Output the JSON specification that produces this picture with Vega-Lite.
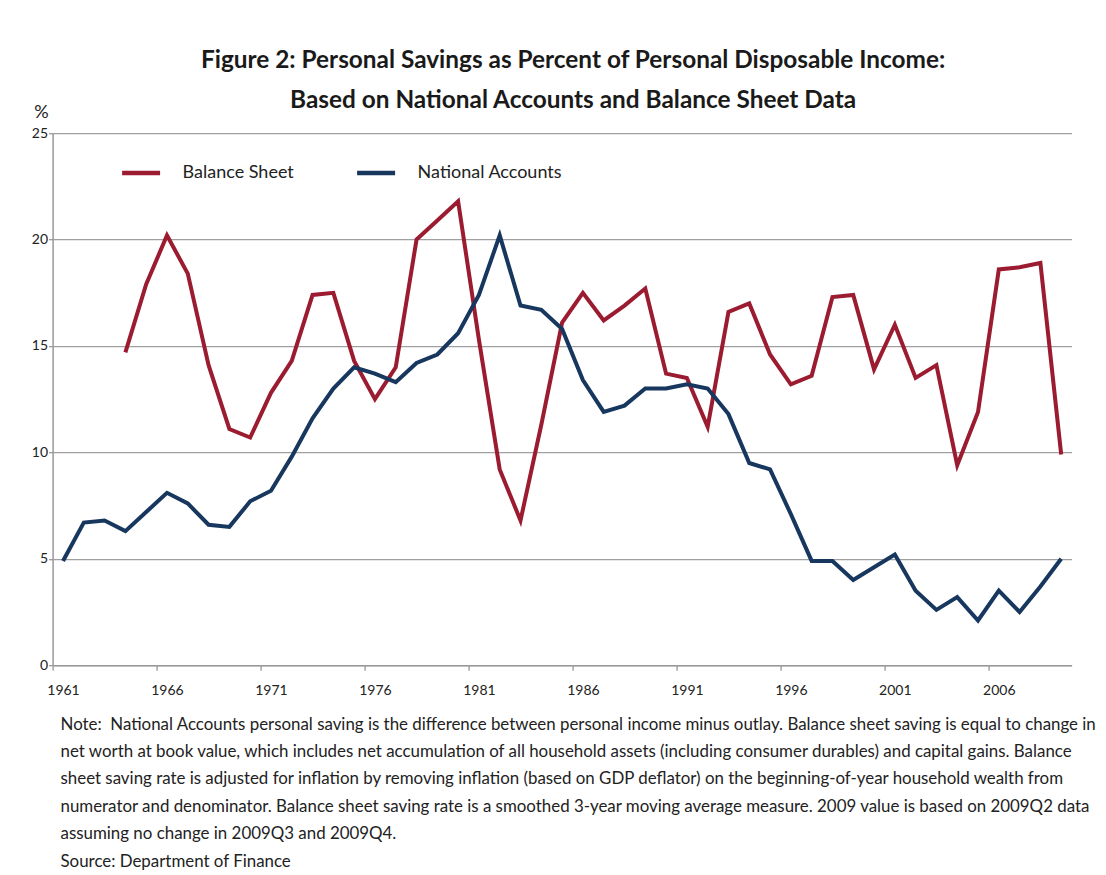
{
  "$schema": "https://vega.github.io/schema/vega-lite/v6.json",
  "width": 1019,
  "height": 532,
  "autosize": {"type": "none"},
  "padding": {"left": 52.6, "top": 133.2, "right": 34.4, "bottom": 209.9},
  "background": "white",
  "title": {
    "text": ["Figure 2: Personal Savings as Percent of Personal Disposable Income:", "Based on National Accounts and Balance Sheet Data"],
    "font": "Lato", "fontSize": 24.4, "fontWeight": "bold", "color": "#1a1a1a",
    "lineHeight": 40, "anchor": "middle", "frame": "group", "baseline": "bottom", "offset": -34, "dx": 11
  },
  "data": {"values": [
    {"year": 1964, "series": "Balance Sheet", "pct": 14.7},
    {"year": 1965, "series": "Balance Sheet", "pct": 17.9},
    {"year": 1966, "series": "Balance Sheet", "pct": 20.2},
    {"year": 1967, "series": "Balance Sheet", "pct": 18.4},
    {"year": 1968, "series": "Balance Sheet", "pct": 14.1},
    {"year": 1969, "series": "Balance Sheet", "pct": 11.1},
    {"year": 1970, "series": "Balance Sheet", "pct": 10.7},
    {"year": 1971, "series": "Balance Sheet", "pct": 12.8},
    {"year": 1972, "series": "Balance Sheet", "pct": 14.3},
    {"year": 1973, "series": "Balance Sheet", "pct": 17.4},
    {"year": 1974, "series": "Balance Sheet", "pct": 17.5},
    {"year": 1975, "series": "Balance Sheet", "pct": 14.3},
    {"year": 1976, "series": "Balance Sheet", "pct": 12.5},
    {"year": 1977, "series": "Balance Sheet", "pct": 14.0},
    {"year": 1978, "series": "Balance Sheet", "pct": 20.0},
    {"year": 1979, "series": "Balance Sheet", "pct": 20.9},
    {"year": 1980, "series": "Balance Sheet", "pct": 21.8},
    {"year": 1981, "series": "Balance Sheet", "pct": 15.3},
    {"year": 1982, "series": "Balance Sheet", "pct": 9.2},
    {"year": 1983, "series": "Balance Sheet", "pct": 6.8},
    {"year": 1984, "series": "Balance Sheet", "pct": 11.3},
    {"year": 1985, "series": "Balance Sheet", "pct": 16.1},
    {"year": 1986, "series": "Balance Sheet", "pct": 17.5},
    {"year": 1987, "series": "Balance Sheet", "pct": 16.2},
    {"year": 1988, "series": "Balance Sheet", "pct": 16.9},
    {"year": 1989, "series": "Balance Sheet", "pct": 17.7},
    {"year": 1990, "series": "Balance Sheet", "pct": 13.7},
    {"year": 1991, "series": "Balance Sheet", "pct": 13.5},
    {"year": 1992, "series": "Balance Sheet", "pct": 11.2},
    {"year": 1993, "series": "Balance Sheet", "pct": 16.6},
    {"year": 1994, "series": "Balance Sheet", "pct": 17.0},
    {"year": 1995, "series": "Balance Sheet", "pct": 14.6},
    {"year": 1996, "series": "Balance Sheet", "pct": 13.2},
    {"year": 1997, "series": "Balance Sheet", "pct": 13.6},
    {"year": 1998, "series": "Balance Sheet", "pct": 17.3},
    {"year": 1999, "series": "Balance Sheet", "pct": 17.4},
    {"year": 2000, "series": "Balance Sheet", "pct": 13.9},
    {"year": 2001, "series": "Balance Sheet", "pct": 16.0},
    {"year": 2002, "series": "Balance Sheet", "pct": 13.5},
    {"year": 2003, "series": "Balance Sheet", "pct": 14.1},
    {"year": 2004, "series": "Balance Sheet", "pct": 9.4},
    {"year": 2005, "series": "Balance Sheet", "pct": 11.9},
    {"year": 2006, "series": "Balance Sheet", "pct": 18.6},
    {"year": 2007, "series": "Balance Sheet", "pct": 18.7},
    {"year": 2008, "series": "Balance Sheet", "pct": 18.9},
    {"year": 2009, "series": "Balance Sheet", "pct": 9.9},
    {"year": 1961, "series": "National Accounts", "pct": 4.9},
    {"year": 1962, "series": "National Accounts", "pct": 6.7},
    {"year": 1963, "series": "National Accounts", "pct": 6.8},
    {"year": 1964, "series": "National Accounts", "pct": 6.3},
    {"year": 1965, "series": "National Accounts", "pct": 7.2},
    {"year": 1966, "series": "National Accounts", "pct": 8.1},
    {"year": 1967, "series": "National Accounts", "pct": 7.6},
    {"year": 1968, "series": "National Accounts", "pct": 6.6},
    {"year": 1969, "series": "National Accounts", "pct": 6.5},
    {"year": 1970, "series": "National Accounts", "pct": 7.7},
    {"year": 1971, "series": "National Accounts", "pct": 8.2},
    {"year": 1972, "series": "National Accounts", "pct": 9.8},
    {"year": 1973, "series": "National Accounts", "pct": 11.6},
    {"year": 1974, "series": "National Accounts", "pct": 13.0},
    {"year": 1975, "series": "National Accounts", "pct": 14.0},
    {"year": 1976, "series": "National Accounts", "pct": 13.7},
    {"year": 1977, "series": "National Accounts", "pct": 13.3},
    {"year": 1978, "series": "National Accounts", "pct": 14.2},
    {"year": 1979, "series": "National Accounts", "pct": 14.6},
    {"year": 1980, "series": "National Accounts", "pct": 15.6},
    {"year": 1981, "series": "National Accounts", "pct": 17.4},
    {"year": 1982, "series": "National Accounts", "pct": 20.2},
    {"year": 1983, "series": "National Accounts", "pct": 16.9},
    {"year": 1984, "series": "National Accounts", "pct": 16.7},
    {"year": 1985, "series": "National Accounts", "pct": 15.8},
    {"year": 1986, "series": "National Accounts", "pct": 13.4},
    {"year": 1987, "series": "National Accounts", "pct": 11.9},
    {"year": 1988, "series": "National Accounts", "pct": 12.2},
    {"year": 1989, "series": "National Accounts", "pct": 13.0},
    {"year": 1990, "series": "National Accounts", "pct": 13.0},
    {"year": 1991, "series": "National Accounts", "pct": 13.2},
    {"year": 1992, "series": "National Accounts", "pct": 13.0},
    {"year": 1993, "series": "National Accounts", "pct": 11.8},
    {"year": 1994, "series": "National Accounts", "pct": 9.5},
    {"year": 1995, "series": "National Accounts", "pct": 9.2},
    {"year": 1996, "series": "National Accounts", "pct": 7.1},
    {"year": 1997, "series": "National Accounts", "pct": 4.9},
    {"year": 1998, "series": "National Accounts", "pct": 4.9},
    {"year": 1999, "series": "National Accounts", "pct": 4.0},
    {"year": 2000, "series": "National Accounts", "pct": 4.6},
    {"year": 2001, "series": "National Accounts", "pct": 5.2},
    {"year": 2002, "series": "National Accounts", "pct": 3.5},
    {"year": 2003, "series": "National Accounts", "pct": 2.6},
    {"year": 2004, "series": "National Accounts", "pct": 3.2},
    {"year": 2005, "series": "National Accounts", "pct": 2.1},
    {"year": 2006, "series": "National Accounts", "pct": 3.5},
    {"year": 2007, "series": "National Accounts", "pct": 2.5},
    {"year": 2008, "series": "National Accounts", "pct": 3.7},
    {"year": 2009, "series": "National Accounts", "pct": 5.0}
  ]},
  "mark": {"type": "line", "strokeWidth": 4},
  "encoding": {
    "x": {
      "field": "year", "type": "quantitative",
      "scale": {"domain": [1960.5, 2009.5], "nice": false, "zero": false},
      "axis": {
        "values": [1961, 1966, 1971, 1976, 1981, 1986, 1991, 1996, 2001, 2006],
        "format": "d", "grid": false, "labelFlush": false, "labelOverlap": false,
        "tickOffset": -10.4, "labelOffset": 10.4, "tickSize": 5, "tickColor": "#999999", "tickWidth": 1.3,
        "domainColor": "#999999", "domainWidth": 1.5,
        "labelFont": "Lato", "labelFontSize": 14, "labelColor": "#222222", "labelPadding": 13,
        "title": [
          "Note:\u00a0 National Accounts personal saving is the difference between personal income minus outlay. Balance sheet saving is equal to change in",
          "net worth at book value, which includes net accumulation of all household assets (including consumer durables) and capital gains. Balance",
          "sheet saving rate is adjusted for inflation by removing inflation (based on GDP deflator) on the beginning-of-year household wealth from",
          "numerator and denominator. Balance sheet saving rate is a smoothed 3-year moving average measure. 2009 value is based on 2009Q2 data",
          "assuming no change in 2009Q3 and 2009Q4.",
          "Source: Department of Finance"
        ],
        "titleFont": "Lato", "titleFontSize": 16.9, "titleFontWeight": "normal", "titleColor": "#222222",
        "titleAnchor": "start", "titleAlign": "left", "titleBaseline": "alphabetic",
        "titleX": 7.4, "titleY": 64, "titleLineHeight": 27.4
      }
    },
    "y": {
      "field": "pct", "type": "quantitative",
      "scale": {"domain": [0, 25], "nice": false},
      "axis": {
        "values": [0, 5, 10, 15, 20, 25],
        "grid": true, "gridColor": "#a0a0a0", "gridWidth": 1.3,
        "domainColor": "#999999", "domainWidth": 1.5, "tickColor": "#999999", "tickSize": 4, "tickWidth": 1.3,
        "labelFont": "Lato", "labelFontSize": 14, "labelColor": "#222222", "labelPadding": 1,
        "title": "%", "titleAngle": 0, "titleX": -11.6, "titleY": -16, "titleAlign": "center",
        "titleBaseline": "alphabetic", "titleFont": "Lato", "titleFontSize": 18, "titleFontWeight": "normal", "titleColor": "#222222"
      }
    },
    "color": {
      "field": "series", "type": "nominal",
      "scale": {"domain": ["Balance Sheet", "National Accounts"], "range": ["#9B1B30", "#17375E"]},
      "legend": {
        "orient": "none", "legendX": 67, "legendY": 18, "direction": "horizontal", "title": null,
        "symbolType": "stroke", "symbolSize": 1444, "symbolStrokeWidth": 4.5,
        "labelFont": "Lato", "labelFontSize": 18, "labelOffset": 20, "columnPadding": 53,
        "labelColor": "#222222", "padding": 0
      }
    }
  },
  "config": {"view": {"stroke": null}, "font": "Lato"}
}
